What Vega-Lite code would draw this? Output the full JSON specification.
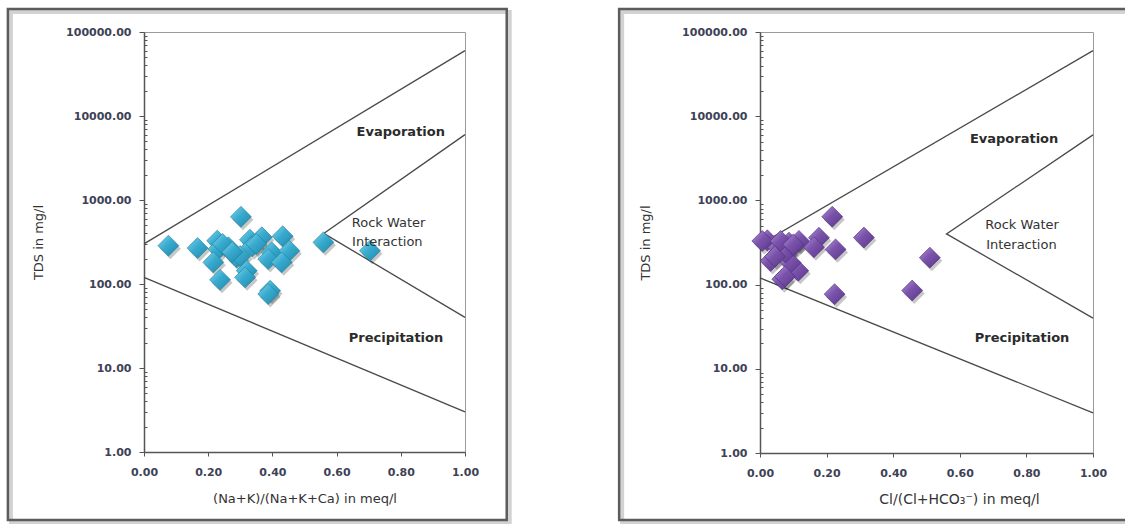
{
  "$schema": "https://vega.github.io/schema/vega-lite/v6.json",
  "background": "white",
  "padding": {"left": 6, "top": 7, "right": 0, "bottom": 0},
  "spacing": 104,
  "datasets": {
    "cation": [
      {"ratio": 0.076, "tds": 286}, {"ratio": 0.167, "tds": 268}, {"ratio": 0.302, "tds": 630},
      {"ratio": 0.228, "tds": 328}, {"ratio": 0.232, "tds": 261}, {"ratio": 0.263, "tds": 273},
      {"ratio": 0.216, "tds": 181}, {"ratio": 0.237, "tds": 112}, {"ratio": 0.289, "tds": 207},
      {"ratio": 0.300, "tds": 215}, {"ratio": 0.320, "tds": 144}, {"ratio": 0.315, "tds": 120},
      {"ratio": 0.330, "tds": 337}, {"ratio": 0.337, "tds": 281}, {"ratio": 0.367, "tds": 360},
      {"ratio": 0.398, "tds": 238}, {"ratio": 0.387, "tds": 198}, {"ratio": 0.393, "tds": 83},
      {"ratio": 0.387, "tds": 76}, {"ratio": 0.432, "tds": 370}, {"ratio": 0.453, "tds": 249},
      {"ratio": 0.429, "tds": 181}, {"ratio": 0.559, "tds": 313}, {"ratio": 0.704, "tds": 249},
      {"ratio": 0.245, "tds": 300}, {"ratio": 0.275, "tds": 240}, {"ratio": 0.350, "tds": 300}
    ],
    "anion": [
      {"ratio": 0.217, "tds": 640}, {"ratio": 0.312, "tds": 362}, {"ratio": 0.227, "tds": 262},
      {"ratio": 0.177, "tds": 360}, {"ratio": 0.162, "tds": 278}, {"ratio": 0.510, "tds": 209},
      {"ratio": 0.457, "tds": 85}, {"ratio": 0.224, "tds": 77}, {"ratio": 0.022, "tds": 336},
      {"ratio": 0.055, "tds": 275}, {"ratio": 0.032, "tds": 191}, {"ratio": 0.067, "tds": 116},
      {"ratio": 0.115, "tds": 146}, {"ratio": 0.092, "tds": 182}, {"ratio": 0.087, "tds": 315},
      {"ratio": 0.117, "tds": 330}, {"ratio": 0.077, "tds": 240}, {"ratio": 0.102, "tds": 288},
      {"ratio": 0.007, "tds": 330}, {"ratio": 0.062, "tds": 330}, {"ratio": 0.045, "tds": 215},
      {"ratio": 0.075, "tds": 125}, {"ratio": 0.100, "tds": 300}
    ],
    "boundaries": [
      {"line": "upper", "i": 0, "ratio": 0, "tds": 300},
      {"line": "upper", "i": 1, "ratio": 1, "tds": 60000},
      {"line": "rock", "i": 0, "ratio": 1, "tds": 6000},
      {"line": "rock", "i": 1, "ratio": 0.56, "tds": 400},
      {"line": "rock", "i": 2, "ratio": 1, "tds": 40},
      {"line": "lower", "i": 0, "ratio": 0, "tds": 120},
      {"line": "lower", "i": 1, "ratio": 1, "tds": 3}
    ],
    "zones": [
      {"panel": "cation", "kind": "main", "label": "Evaporation", "ratio": 0.80, "tds": 6500},
      {"panel": "cation", "kind": "rock", "label": "Rock Water", "ratio": 0.762, "tds": 533},
      {"panel": "cation", "kind": "rock", "label": "Interaction", "ratio": 0.758, "tds": 316},
      {"panel": "cation", "kind": "main", "label": "Precipitation", "ratio": 0.785, "tds": 23},
      {"panel": "anion", "kind": "main", "label": "Evaporation", "ratio": 0.763, "tds": 5400},
      {"panel": "anion", "kind": "rock", "label": "Rock Water", "ratio": 0.787, "tds": 509},
      {"panel": "anion", "kind": "rock", "label": "Interaction", "ratio": 0.785, "tds": 295},
      {"panel": "anion", "kind": "main", "label": "Precipitation", "ratio": 0.787, "tds": 23}
    ]
  },
  "hconcat": [
    {
      "width": 321,
      "height": 420,
      "layer": [
        {
          "data": {"values": [{}]},
          "mark": {"type": "rect", "filled": false, "stroke": "#d2d2d2", "strokeWidth": 4, "xOffset": 3, "x2Offset": 3, "yOffset": 3, "y2Offset": 3, "clip": false},
          "encoding": {
            "x": {"datum": -0.424, "type": "quantitative", "scale": {"domain": [0, 1], "nice": false, "zero": false},
              "axis": {"title": "(Na+K)/(Na+K+Ca) in meq/l", "values": [0, 0.2, 0.4, 0.6, 0.8, 1], "format": ".2f", "labelFlush": false, "tickSize": 4, "labelPadding": 10, "titlePadding": 15, "grid": false}},
            "x2": {"datum": 1.13},
            "y": {"datum": 188000, "type": "quantitative", "scale": {"type": "log", "domain": [1, 100000], "nice": false},
              "axis": {"title": "TDS in mg/l", "grid": false, "labelOverlap": false, "labelFlush": false, "labelPadding": 8, "titlePadding": 20,
                "values": [1,2,3,4,5,6,7,8,9,10,20,30,40,50,60,70,80,90,100,200,300,400,500,600,700,800,900,1000,2000,3000,4000,5000,6000,7000,8000,9000,10000,20000,30000,40000,50000,60000,70000,80000,90000,100000],
                "labelExpr": "indexof([1,10,100,1000,10000,100000], datum.value) >= 0 ? format(datum.value, '.2f') : ''",
                "tickSize": {"condition": {"test": "indexof([1,10,100,1000,10000,100000], datum.value) < 0", "value": -3}, "value": 5}}},
            "y2": {"datum": 0.155}
          }
        },
        {
          "data": {"values": [{}]},
          "mark": {"type": "rect", "filled": false, "stroke": "#5c5c5c", "strokeWidth": 2.5, "clip": false},
          "encoding": {
            "x": {"datum": -0.424, "type": "quantitative"},
            "x2": {"datum": 1.13},
            "y": {"datum": 188000, "type": "quantitative"},
            "y2": {"datum": 0.155}
          }
        },
        {
          "data": {"name": "boundaries"},
          "mark": {"type": "line", "color": "#4a4a4a", "strokeWidth": 1.3},
          "encoding": {
            "x": {"field": "ratio", "type": "quantitative"},
            "y": {"field": "tds", "type": "quantitative"},
            "detail": {"field": "line"},
            "order": {"field": "i"}
          }
        },
        {
          "data": {"name": "cation"},
          "mark": {"type": "point", "shape": "diamond", "filled": true, "size": 440, "color": "#000000", "opacity": 0.22, "xOffset": 2, "yOffset": 3},
          "encoding": {
            "x": {"field": "ratio", "type": "quantitative"},
            "y": {"field": "tds", "type": "quantitative"}
          }
        },
        {
          "data": {"name": "cation"},
          "mark": {"type": "point", "shape": "diamond", "filled": true, "size": 440, "opacity": 1, "stroke": "#1d7d9c", "strokeWidth": 0.6,
            "fill": {"gradient": "linear", "x1": 0, "y1": 0, "x2": 1, "y2": 1, "stops": [{"offset": 0, "color": "#86d8ee"}, {"offset": 0.45, "color": "#38abcf"}, {"offset": 1, "color": "#1f86a8"}]}},
          "encoding": {
            "x": {"field": "ratio", "type": "quantitative"},
            "y": {"field": "tds", "type": "quantitative"}
          }
        },
        {
          "data": {"name": "zones"},
          "transform": [{"filter": "datum.panel == 'cation' && datum.kind == 'main'"}],
          "mark": {"type": "text", "font": "DejaVu Sans", "fontSize": 13, "fontWeight": "bold", "color": "#2b2b2b", "align": "center", "baseline": "middle"},
          "encoding": {
            "x": {"field": "ratio", "type": "quantitative"},
            "y": {"field": "tds", "type": "quantitative"},
            "text": {"field": "label"}
          }
        },
        {
          "data": {"name": "zones"},
          "transform": [{"filter": "datum.panel == 'cation' && datum.kind == 'rock'"}],
          "mark": {"type": "text", "font": "DejaVu Sans", "fontSize": 13, "fontWeight": "normal", "color": "#333333", "align": "center", "baseline": "middle"},
          "encoding": {
            "x": {"field": "ratio", "type": "quantitative"},
            "y": {"field": "tds", "type": "quantitative"},
            "text": {"field": "label"}
          }
        }
      ]
    },
    {
      "width": 333,
      "height": 421,
      "layer": [
        {
          "data": {"values": [{}]},
          "mark": {"type": "rect", "filled": false, "stroke": "#d2d2d2", "strokeWidth": 4, "xOffset": 3, "x2Offset": 3, "yOffset": 3, "y2Offset": 3, "clip": false},
          "encoding": {
            "x": {"datum": -0.423, "type": "quantitative", "scale": {"domain": [0, 1], "nice": false, "zero": false},
              "axis": {"title": "Cl/(Cl+HCO₃⁻) in meq/l", "titleFontSize": 14, "titleX": 199, "values": [0, 0.2, 0.4, 0.6, 0.8, 1], "format": ".2f", "labelFlush": false, "tickSize": 4, "labelPadding": 10, "titlePadding": 14, "grid": false}},
            "x2": {"datum": 1.11},
            "y": {"datum": 187500, "type": "quantitative", "scale": {"type": "log", "domain": [1, 100000], "nice": false},
              "axis": {"title": "TDS in mg/l", "grid": false, "labelOverlap": false, "labelFlush": false, "labelPadding": 8, "titlePadding": 29,
                "values": [1,2,3,4,5,6,7,8,9,10,20,30,40,50,60,70,80,90,100,200,300,400,500,600,700,800,900,1000,2000,3000,4000,5000,6000,7000,8000,9000,10000,20000,30000,40000,50000,60000,70000,80000,90000,100000],
                "labelExpr": "indexof([1,10,100,1000,10000,100000], datum.value) >= 0 ? format(datum.value, '.2f') : ''",
                "tickSize": {"condition": {"test": "indexof([1,10,100,1000,10000,100000], datum.value) < 0", "value": -3}, "value": 5}}},
            "y2": {"datum": 0.16}
          }
        },
        {
          "data": {"values": [{}]},
          "mark": {"type": "rect", "filled": false, "stroke": "#5c5c5c", "strokeWidth": 2.5, "clip": false},
          "encoding": {
            "x": {"datum": -0.423, "type": "quantitative"},
            "x2": {"datum": 1.11},
            "y": {"datum": 187500, "type": "quantitative"},
            "y2": {"datum": 0.16}
          }
        },
        {
          "data": {"name": "boundaries"},
          "mark": {"type": "line", "color": "#4a4a4a", "strokeWidth": 1.3},
          "encoding": {
            "x": {"field": "ratio", "type": "quantitative"},
            "y": {"field": "tds", "type": "quantitative"},
            "detail": {"field": "line"},
            "order": {"field": "i"}
          }
        },
        {
          "data": {"name": "anion"},
          "mark": {"type": "point", "shape": "diamond", "filled": true, "size": 440, "color": "#000000", "opacity": 0.22, "xOffset": 2, "yOffset": 3},
          "encoding": {
            "x": {"field": "ratio", "type": "quantitative"},
            "y": {"field": "tds", "type": "quantitative"}
          }
        },
        {
          "data": {"name": "anion"},
          "mark": {"type": "point", "shape": "diamond", "filled": true, "size": 440, "opacity": 1, "stroke": "#4f2f7c", "strokeWidth": 0.6,
            "fill": {"gradient": "linear", "x1": 0, "y1": 0, "x2": 1, "y2": 1, "stops": [{"offset": 0, "color": "#b295d8"}, {"offset": 0.45, "color": "#7a52ab"}, {"offset": 1, "color": "#5a3788"}]}},
          "encoding": {
            "x": {"field": "ratio", "type": "quantitative"},
            "y": {"field": "tds", "type": "quantitative"}
          }
        },
        {
          "data": {"name": "zones"},
          "transform": [{"filter": "datum.panel == 'anion' && datum.kind == 'main'"}],
          "mark": {"type": "text", "font": "DejaVu Sans", "fontSize": 13, "fontWeight": "bold", "color": "#2b2b2b", "align": "center", "baseline": "middle"},
          "encoding": {
            "x": {"field": "ratio", "type": "quantitative"},
            "y": {"field": "tds", "type": "quantitative"},
            "text": {"field": "label"}
          }
        },
        {
          "data": {"name": "zones"},
          "transform": [{"filter": "datum.panel == 'anion' && datum.kind == 'rock'"}],
          "mark": {"type": "text", "font": "DejaVu Sans", "fontSize": 13, "fontWeight": "normal", "color": "#333333", "align": "center", "baseline": "middle"},
          "encoding": {
            "x": {"field": "ratio", "type": "quantitative"},
            "y": {"field": "tds", "type": "quantitative"},
            "text": {"field": "label"}
          }
        }
      ]
    }
  ],
  "config": {
    "font": "DejaVu Sans",
    "view": {"stroke": "#9a9a9a", "strokeWidth": 1},
    "axis": {
      "labelFont": "DejaVu Sans",
      "labelFontSize": 11,
      "labelFontWeight": "bold",
      "labelColor": "#3d4256",
      "titleFont": "DejaVu Sans",
      "titleFontSize": 13,
      "titleFontWeight": "normal",
      "titleColor": "#333333",
      "domainColor": "#555555",
      "domainWidth": 1.5,
      "tickColor": "#555555",
      "tickWidth": 1
    }
  }
}
